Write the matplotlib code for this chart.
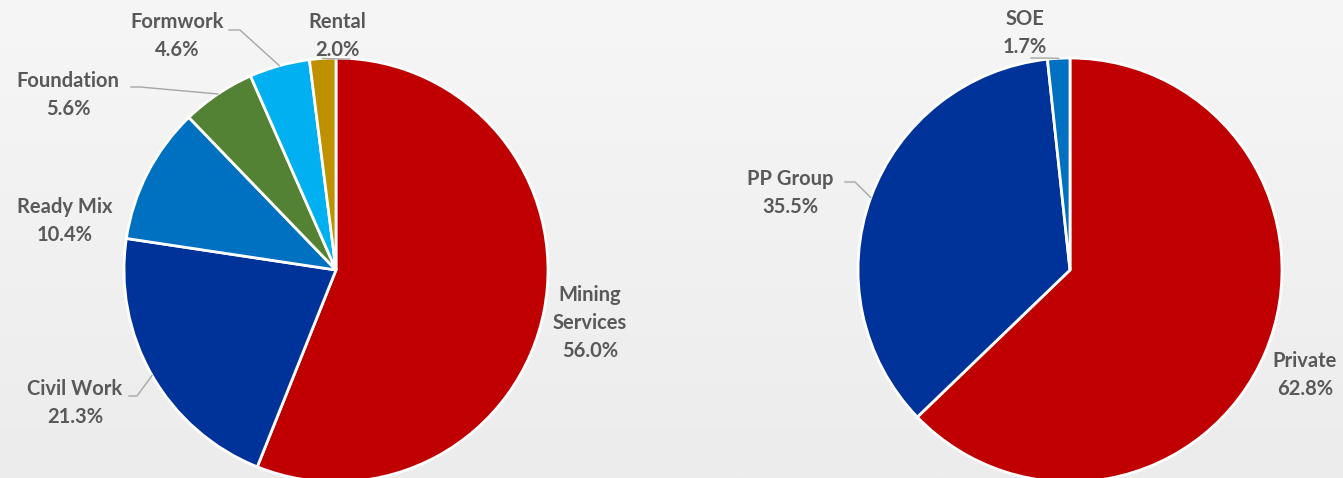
import matplotlib.pyplot as plt
import numpy as np

# Segment split (left) and customer split (right)
seg_names = ['Mining\nServices', 'Civil Work', 'Ready Mix', 'Foundation', 'Formwork', 'Rental']
seg_share = [56.0, 21.3, 10.4, 5.6, 4.6, 2.0]
seg_colors = ['#C00000', '#003399', '#0070C0', '#548235', '#00B0F0', '#BF9000']

cust_names = ['Private', 'PP Group', 'SOE']
cust_share = [62.8, 35.5, 1.7]
cust_colors = ['#C00000', '#003399', '#0070C0']

W, H = 1343, 478
fig = plt.figure(figsize=(W / 100, H / 100), dpi=100)
ax = fig.add_axes([0, 0, 1, 1])

# soft grey background gradient
grad = np.linspace(0, 1, 256).reshape(-1, 1)
ax.imshow(grad, extent=[0, W, 0, H], cmap=plt.matplotlib.colors.LinearSegmentedColormap.from_list(
    'bg', ['#ECECEC', '#F6F6F6']), aspect='auto', origin='lower', zorder=0)

txt = dict(fontsize=14.5, fontweight='bold', color='#595959', family=['Lato', 'DejaVu Sans'],
           ha='center', va='center', linespacing=1.5)
lead = dict(color='#A6A6A6', lw=1.0, zorder=3)


def draw_pie(cx, cy, r, values, colors):
    wedges, _ = ax.pie(values, colors=colors, startangle=90, counterclock=False,
                       center=(cx, cy), radius=r,
                       wedgeprops=dict(edgecolor='white', linewidth=2))
    return wedges


def edge_point(w, frac=1.0):
    ang = np.deg2rad((w.theta1 + w.theta2) / 2)
    cx, cy = w.center
    return cx + w.r * frac * np.cos(ang), cy + w.r * frac * np.sin(ang)


def label(name, value, x, y, wedge=None, start=None, knee=None):
    ax.text(x, H - y, f'{name}\n{value:.1f}%', **txt, zorder=4)
    if wedge is not None:
        ex, ey = edge_point(wedge)
        xs = [start[0], knee[0], ex]
        ys = [H - start[1], H - knee[1], ey]
        ax.plot(xs, ys, **lead)


lw_ = draw_pie(336, H - 270, 212, seg_share, seg_colors)
rw_ = draw_pie(1070, H - 270, 212, cust_share, cust_colors)

# left pie labels
label(seg_names[0], seg_share[0], 590, 323)
label(seg_names[1], seg_share[1], 75, 403, lw_[1], (129, 396), (137, 396))
label(seg_names[2], seg_share[2], 65, 221)
label(seg_names[3], seg_share[3], 68, 95, lw_[3], (131, 87), (140, 87))
label(seg_names[4], seg_share[4], 177, 36, lw_[4], (229, 30), (240, 30))
label(seg_names[5], seg_share[5], 337, 36, lw_[5], (350, 59), (340, 59))

# right pie labels
label(cust_names[0], cust_share[0], 1305, 375)
label(cust_names[1], cust_share[1], 790, 193, rw_[1], (845, 182), (855, 182))
label(cust_names[2], cust_share[2], 1025, 33, rw_[2], (1031, 58), (1040, 58))

ax.set_xlim(0, W)
ax.set_ylim(0, H)
ax.set_aspect('auto')
ax.axis('off')

fig.savefig('out.png', dpi=100)
